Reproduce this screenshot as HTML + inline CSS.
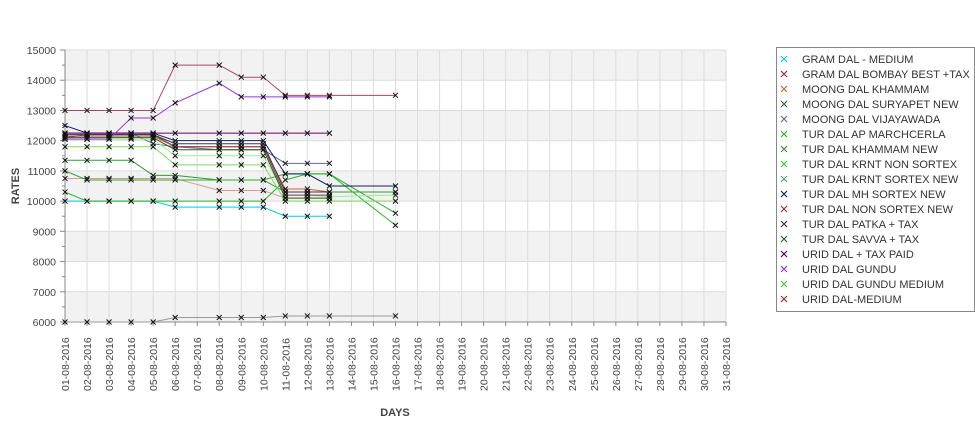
<!DOCTYPE html>
<html><head><meta charset="utf-8"><style>
body{margin:0;background:#fff;width:975px;height:429px;overflow:hidden;font-family:"Liberation Sans",sans-serif}
</style></head><body>
<svg id="s" width="975" height="429" xmlns="http://www.w3.org/2000/svg" font-family="Liberation Sans, sans-serif"></svg>
<script>
const s=document.getElementById('s');
let h='';
const X=i=>65+i*22.033, Y=v=>322-(v-6000)*272/9000;
for(let v=6000;v<15000;v+=2000){h+=`<rect x="65" y="${Y(v+1000)}" width="661" height="${Y(v)-Y(v+1000)}" fill="#f2f2f2"/>`;}
for(let i=0;i<=30;i++)h+=`<line x1="${X(i)}" y1="50" x2="${X(i)}" y2="322" stroke="#dcdcdc"/>`;
for(let v=6000;v<=15000;v+=1000)h+=`<line x1="65" y1="${Y(v)}" x2="726" y2="${Y(v)}" stroke="#dcdcdc"/>`;
for(let v=6000;v<=15000;v+=500){const w=v%1000?3:5;h+=`<line x1="${65-w}" y1="${Y(v)}" x2="65" y2="${Y(v)}" stroke="#888"/>`;}
for(let v=6000;v<=15000;v+=1000)h+=`<text x="56" y="${Y(v)+4}" font-size="10.5" text-anchor="end" fill="#444">${v}</text>`;
h+=`<line x1="65" y1="50" x2="65" y2="322" stroke="#888"/><line x1="65" y1="322" x2="726" y2="322" stroke="#888"/>`;
for(let i=0;i<=30;i++){const d=String(i+1).padStart(2,'0');h+=`<line x1="${X(i)}" y1="322" x2="${X(i)}" y2="326" stroke="#888"/><text transform="translate(${X(i)+4},391) rotate(-90)" font-size="10.5" fill="#444">${d}-08-2016</text>`;}
h+=`<text x="395" y="416" font-size="11" font-weight="bold" text-anchor="middle" fill="#444">DAYS</text>`;
h+=`<text transform="translate(19,186) rotate(-90)" font-size="11" font-weight="bold" text-anchor="middle" fill="#444">RATES</text>`;
const D=[0,1,2,3,4,5,7,8,9,10,11,12,15];
const S=[
["GRAM DAL - MEDIUM","#00ccee",[10000,10000,10000,10000,10000,9800,9800,9800,9800,9500,9500,9500]],
["GRAM DAL BOMBAY BEST +TAX","#dd9999",[10750,10750,10750,10750,10750,10750,10350,10350,10350,10100,10100,10100]],
["MOONG DAL KHAMMAM","#cc6633",[12150,12150,12150,12150,12150,11800,11800,11800,11800,10400,10400,10300,10300]],
["MOONG DAL SURYAPET NEW","#339933",[11350,11350,11350,11350,10850,10850,10700,10700,10700,10300,10300,10300,10300]],
["MOONG DAL VIJAYAWADA","#666699",[12250,12250,12250,12250,11900,11800,11700,11700,11700,11250,11250,11250]],
["TUR DAL AP MARCHCERLA","#22bb22",[10300,10000,10000,10000,10000,10000,10000,10000,10000,10700,10900,10900,9200]],
["TUR DAL KHAMMAM NEW","#33aa33",[11000,10700,10700,10700,10700,10700,10700,10700,10700,10900,10900,10900,9600]],
["TUR DAL KRNT NON SORTEX","#99ee99",[12050,12050,12050,12050,12050,11500,11500,11500,11500,10200,10200,10150,10200]],
["TUR DAL KRNT SORTEX NEW","#77dd55",[11800,11800,11800,11800,11800,11200,11200,11200,11200,10000,10000,10000,10000]],
["TUR DAL MH SORTEX NEW","#112266",[12500,12250,12250,12250,12250,12000,12000,12000,12000,10900,10900,10500,10500]],
["TUR DAL NON SORTEX NEW","#993333",[12100,12200,12200,12200,12200,11800,11800,11800,11800,10200,10200,10200]],
["TUR DAL PATKA + TAX","#333366",[12200,12200,12200,12200,12200,11900,11900,11900,11900,10300,10300,10300]],
["TUR DAL SAVVA + TAX","#226622",[12100,12100,12100,12100,12100,11700,11700,11700,11700,10100,10100,10100]],
["URID DAL + TAX PAID","#660066",[12250,12250,12250,12250,12250,12250,12250,12250,12250,12250,12250,12250]],
["URID DAL GUNDU","#9933dd",[12050,12050,12050,12750,12750,13250,13900,13450,13450,13450,13450,13450]],
["URID DAL GUNDU MEDIUM","#999999",[6000,6000,6000,6000,6000,6150,6150,6150,6150,6200,6200,6200,6200]],
["URID DAL-MEDIUM","#aa4466",[13000,13000,13000,13000,13000,14500,14500,14100,14100,13500,13500,13500,13500]]];
const LC=["#00ccee","#993333","#cc6633","#336633","#666699","#22bb22","#339933","#33cc33","#44aa66","#112266","#993333","#333366","#226622","#660066","#9933dd","#44cc22","#993333"];
S.forEach(([n,c,v],k)=>{
 const p=v.map((y,j)=>[X(D[j]),Y(y)]);
 h+=`<polyline fill="none" stroke="${c}" stroke-width="1" points="${p.map(q=>q.join(',')).join(' ')}"/>`;
 p.forEach(([x,y])=>h+=`<path d="M${x-2.5} ${y-2.5}L${x+2.5} ${y+2.5}M${x-2.5} ${y+2.5}L${x+2.5} ${y-2.5}" stroke="#111" stroke-width="1"/>`);
 const ly=59+k*15;
 h+=`<path d="M781 ${ly-3}L787 ${ly+3}M781 ${ly+3}L787 ${ly-3}" stroke="${LC[k]}" stroke-width="1.2"/><text x="802" y="${ly+4}" font-size="11" fill="#333">${n}</text>`;
});
h+=`<rect x="776.5" y="47.5" width="198" height="264" fill="none" stroke="#888"/>`;
s.innerHTML=h;
</script>
</body></html>
